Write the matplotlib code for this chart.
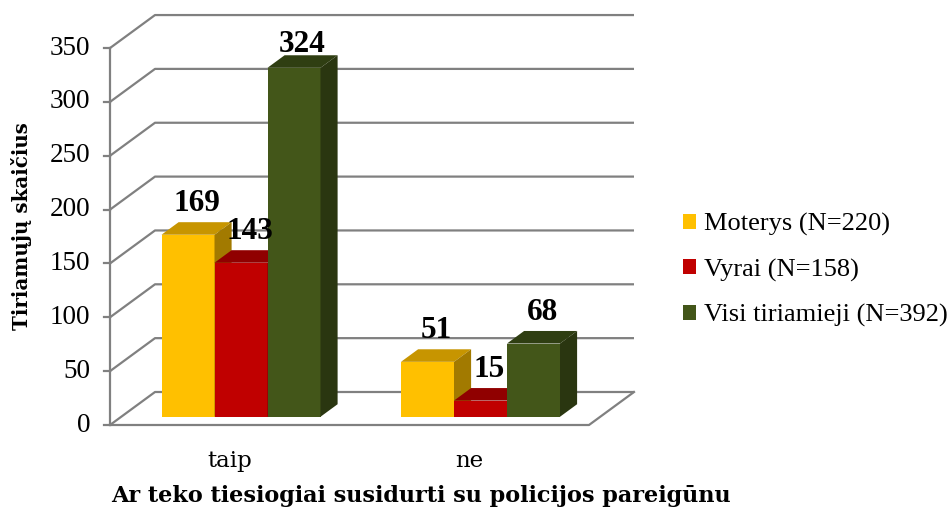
import matplotlib
matplotlib.use("Agg")
import matplotlib.pyplot as plt
from matplotlib.patches import Rectangle, Polygon

categories = ["taip", "ne"]
series = ["Moterys (N=220)", "Vyrai (N=158)", "Visi tiriamieji (N=392)"]
moterys = [169, 51]
vyrai = [143, 15]
visi = [324, 68]
values = [moterys, vyrai, visi]
y_ticks = [0, 50, 100, 150, 200, 250, 300, 350]

front_col = ["#FFC000", "#C00000", "#435619"]
top_col = ["#C79500", "#900000", "#2F3E12"]
side_col = ["#A27A00", "#7A0000", "#2A3610"]
grid_col = "#808080"

W, H = 952, 516
PX_CAT = 239.5      # pixels per category on the front floor edge
PX_VAL = 1.077      # pixels per unit value
X0, Y0 = 110, 425   # pixel of the front-left floor corner
DX, DY = 45 / PX_CAT, 33 / PX_VAL   # full depth offset in data units
F0, FD = 0.25, 0.38                  # bar start depth and bar depth (fractions)
BW = 53 / PX_CAT

times = ["Liberation Serif", "DejaVu Serif"]
cambria = ["DejaVu Serif"]

fig = plt.figure(figsize=(W / 100, H / 100), dpi=100)
ax = fig.add_axes([0, 0, 1, 1])
ax.set_xlim(-0.5 - X0 / PX_CAT, -0.5 + (W - X0) / PX_CAT)
ax.set_ylim(-(H - Y0) / PX_VAL, Y0 / PX_VAL)
ax.axis("off")

left = -0.5
right = left + len(categories)

# walls and gridlines
for v in y_ticks:
    ax.plot([left, left + DX, right + DX], [v, v + DY, v + DY],
            color=grid_col, lw=1.6, solid_capstyle="butt", zorder=1)
    ax.plot([left - 6 / PX_CAT, left], [v, v], color=grid_col, lw=1.6, zorder=1)
    ax.text(left - 20 / PX_CAT, v, str(v), ha="right", va="center",
            fontsize=19.5, family=times)
ax.plot([left, left], [0, y_ticks[-1]], color=grid_col, lw=1.6, zorder=1)
ax.plot([left, right, right + DX], [0, 0, DY], color=grid_col, lw=1.6, zorder=1)

# 3d bars
bdx, bdy = FD * DX, FD * DY
base = F0 * DY
label_max = (Y0 - 52) / PX_VAL   # labels stay inside the chart area
handles = []
for i in range(len(categories)):
    cx = i + F0 * DX
    for j, vals in enumerate(values):
        v = vals[i]
        xl = cx + (j - 1.5) * BW
        ax.add_patch(Rectangle((xl, base), BW, v, facecolor=front_col[j], lw=0, zorder=2))
        if i == 0:
            handles.append(Rectangle((0, 0), 1, 1, facecolor=front_col[j], lw=0))
        ax.add_patch(Polygon([(xl, base + v), (xl + BW, base + v),
                              (xl + BW + bdx, base + v + bdy), (xl + bdx, base + v + bdy)],
                             closed=True, facecolor=top_col[j], lw=0, zorder=2))
        ax.add_patch(Polygon([(xl + BW, base), (xl + BW, base + v),
                              (xl + BW + bdx, base + v + bdy), (xl + BW + bdx, base + bdy)],
                             closed=True, facecolor=side_col[j], lw=0, zorder=2))
        ly = min(base + v + bdy + 11 / PX_VAL, label_max)
        ax.text(xl + BW / 2 + bdx / 2, ly, str(v),
                ha="center", va="baseline", fontsize=22.5, fontweight="bold",
                family=times, zorder=3)

# category labels
for i, c in enumerate(categories):
    ax.text(i, -(461 - Y0) / PX_VAL, c, ha="center", va="center", fontsize=16.5, family=cambria)

xt = fig.text(421 / W, 1 - 496 / H, "Ar teko tiesiogiai susidurti su policijos pareigūnu",
              ha="center", va="center", fontsize=16, fontweight="bold", family=cambria)
yt = fig.text(22 / W, 1 - 226 / H, "Tiriamųjų skaičius", rotation=90,
              ha="center", va="center", fontsize=16, fontweight="bold", family=cambria)

# fit the titles to their widths in the original
r = fig.canvas.get_renderer()
w = xt.get_window_extent(r).width
xt.set_fontsize(16 * 623 / w)
h = yt.get_window_extent(r).height
yt.set_fontsize(16 * 208 / h)

fig.legend(handles, series, loc="upper left", bbox_to_anchor=(683 / W, 1 - 213 / H),
           frameon=False, handlelength=0.5, handleheight=0.5, handletextpad=0.3,
           labelspacing=0.85, borderpad=0, borderaxespad=0,
           prop={"family": times, "size": 19})

fig.savefig("out.png", dpi=100)
